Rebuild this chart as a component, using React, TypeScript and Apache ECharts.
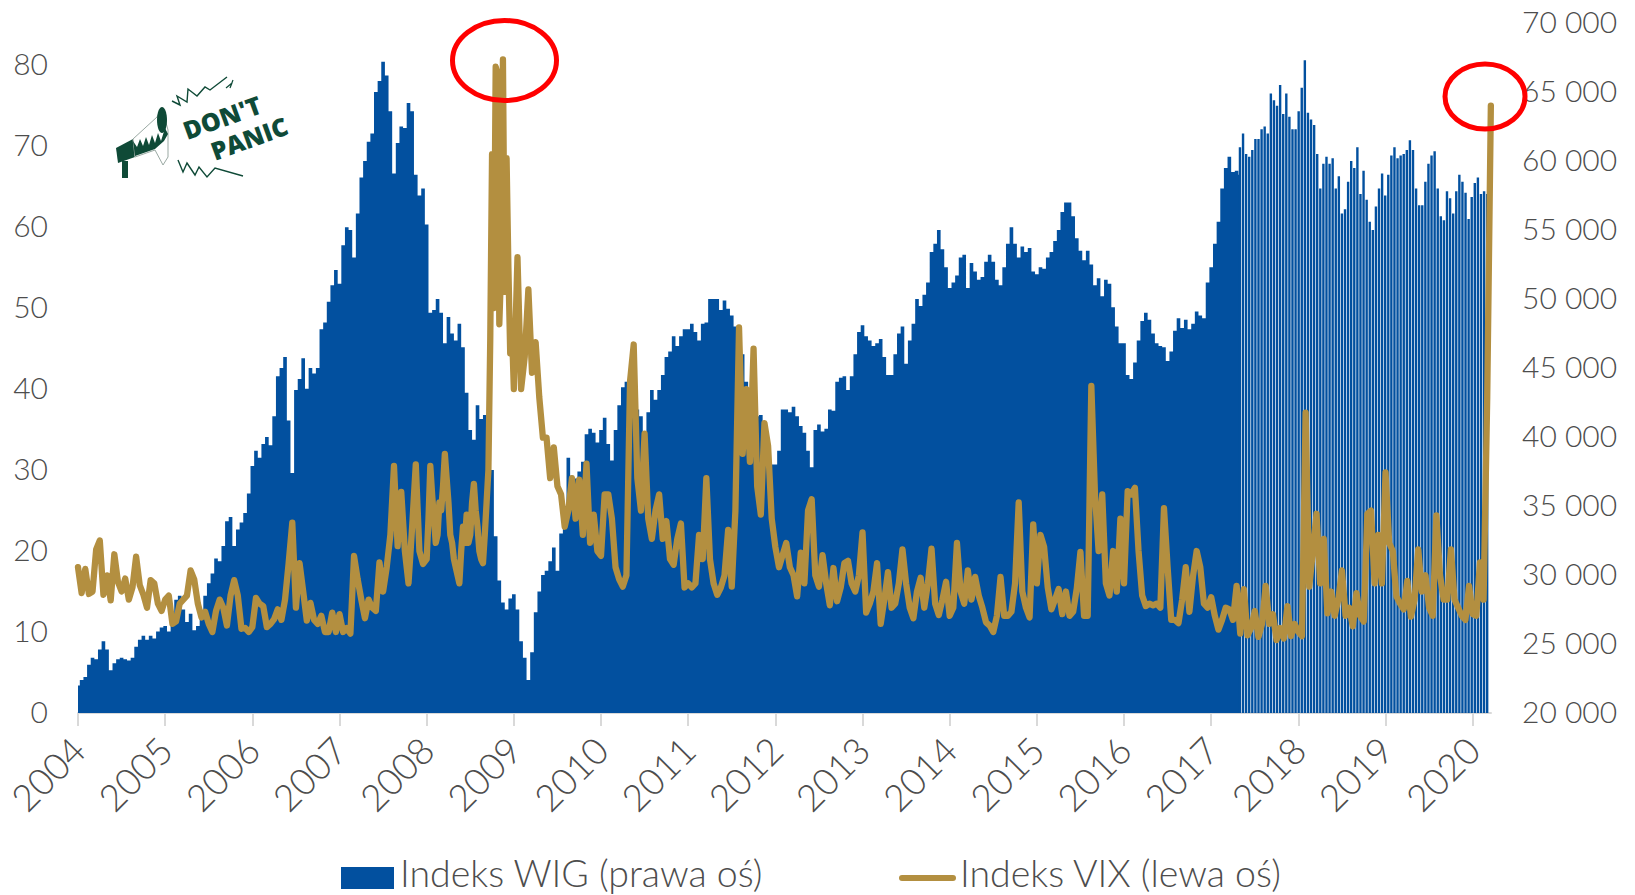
import React, { useEffect, useRef } from "react";
import * as echarts from "echarts";

const yearLabels = [2004, 2005, 2006, 2007, 2008, 2009, 2010, 2011, 2012, 2013, 2014, 2015, 2016, 2017, 2018, 2019, 2020];
const leftTicks = [0, 10, 20, 30, 40, 50, 60, 70, 80];
const rightTicks = [20000, 25000, 30000, 35000, 40000, 45000, 50000, 55000, 60000, 65000, 70000];
const wigName = "Indeks WIG (prawa oś)";
const vixName = "Indeks VIX (lewa oś)";

// WIG, thousands of points, 24 readings per year
const wig2004 = [22, 22.4, 22.6, 23.5, 24, 23.9, 24.6, 25.2, 24.6, 23.1, 23.6, 23.9, 24, 23.9, 23.8, 24, 24.8, 25.3, 25.6, 25.3, 25.6, 25.4, 25.9, 26.2];
const wig2005 = [26.3, 25.9, 26.6, 28.2, 28.5, 27.5, 26.6, 27.2, 26, 26.3, 27, 28.5, 29.4, 30.1, 31.2, 31, 32.1, 33.9, 34.2, 32.1, 33.3, 33.8, 34.5, 35.9];
const wig2006 = [37.9, 39, 38.5, 39.5, 40, 39.4, 41.5, 44.4, 45, 45.8, 41.2, 37.4, 43.4, 44.2, 45.7, 43.5, 45, 44.6, 45, 47.8, 48.3, 49.8, 51, 52.1];
const wig2007 = [51.1, 53.9, 55.2, 55, 53, 56.2, 58.8, 60, 61.4, 62, 65, 65.8, 67.2, 66.2, 63.6, 59.1, 61.3, 62.5, 62.4, 64.2, 63.6, 59, 57.5, 58];
const wig2008 = [55.4, 49, 49.2, 50, 49, 46.8, 48.7, 47.5, 47, 48.2, 46.5, 43.2, 40.5, 39.8, 42.3, 41.3, 41.6, 41, 37.6, 32.8, 29.6, 28, 27.5, 28.3];
const wig2009 = [28.6, 27.5, 25.2, 24, 22.4, 24.4, 27.3, 28.8, 30, 30.3, 31, 32, 30.3, 33, 35, 38.5, 37.2, 37, 37.5, 38.2, 40.2, 40.6, 40.3, 39.6];
const wig2010 = [40.5, 41.4, 39.5, 38.3, 40.5, 42.3, 43.6, 44, 43.5, 43, 42, 41.5, 40.2, 41.8, 43.4, 42.7, 43.4, 44.5, 45.8, 46.2, 47.3, 46.6, 47.3, 47.8];
const wig2011 = [47.8, 48.2, 47.6, 47, 48.2, 48.3, 50, 50, 50, 49.2, 49.9, 49.3, 48.8, 48, 47.5, 46, 44, 43.5, 42.5, 41.5, 41.6, 41, 39.5, 38];
const wig2012 = [38, 39, 42, 42, 41.8, 42.2, 41.5, 40.8, 40.3, 39, 37.8, 40.5, 40.9, 40.4, 40.6, 42, 41.9, 44, 44.3, 44.4, 43.4, 44.4, 46, 47.6];
const wig2013 = [48.1, 47.3, 47, 46.6, 46.8, 47.1, 45.8, 44.5, 44.5, 46, 47.5, 48, 45.3, 47, 48.2, 50, 49.5, 50.3, 51.2, 53.4, 54, 55, 53.6, 52.3];
const wig2014 = [50.8, 51.2, 51.7, 53, 53.2, 50.8, 52.6, 52, 51.4, 51.6, 52.7, 53.2, 52.7, 51.4, 51, 52.3, 54, 55.2, 54, 53, 53.8, 53.4, 53.7, 52];
const wig2015 = [51.8, 52.3, 52.2, 53, 53.4, 54.2, 55, 56.3, 57, 57, 56, 54.4, 53.5, 52.8, 53.5, 52.5, 51, 51.5, 50.2, 51.4, 51.1, 49.4, 48, 46.8];
const wig2016 = [46.8, 44.5, 44.2, 45.4, 47, 48.4, 49, 48.5, 47.5, 46.8, 46.6, 46.5, 45.5, 46.2, 47.7, 48.6, 47.9, 48.5, 47.8, 48.2, 49.1, 48.8, 48.6, 51.2];
const wig2017 = [52.3, 54, 55.6, 58, 59.5, 60.3, 59.2, 59.3, 59];
// WIG from spring 2017 on, read stripe by stripe
const wigStripes = [
  61, 62, 60.5, 60.3, 60.8, 61.6, 61.6, 62.3, 62.5, 62, 64.9, 64.4, 64, 65.5, 63.4, 64.9, 63.2, 62.3, 62.3, 63.6,
  65.3, 67.3, 63.5, 63, 62.6, 60.5, 58, 59.8, 60.3, 59.8, 60.2, 58, 58.9, 56.2, 56.5, 58.5, 60, 59.5, 61, 57.6,
  59.3, 57.2, 55.6, 55, 56.7, 58, 59.1, 57.5, 59, 60.4, 61, 60.2, 60.4, 60.5, 60.8, 61.5, 60.8, 58, 56.8, 56.8,
  58.5, 59.8, 60.4, 60.7, 58, 56, 55.7, 57.8, 57.3, 56.2, 57.8, 59, 58.5, 57.7, 55.8, 57.4, 58.4, 58.8, 57.6, 57.8, 57.6,
];
const wigStripeStart = 2017.33;
const wigStripeStep = 0.03545;

// VIX, 24 readings per year (48 in the crisis year 2008)
const vix2004 = [18, 14.8, 17.8, 14.7, 15, 20.2, 21.3, 14.6, 17, 13.9, 19.6, 16.2, 15, 16.6, 14, 15.5, 19.3, 15.8, 14.6, 13, 16.4, 16, 13.5, 12.6];
const vix2005 = [14, 14.5, 11, 11.3, 13.5, 14, 14.5, 17.6, 16.5, 13.5, 11.8, 12.5, 11, 10, 12.6, 14, 13, 10.8, 14.5, 16.4, 14.5, 10.4, 10.5, 10];
const vix2006 = [10.6, 14.2, 13.5, 13.2, 10.6, 11, 11.6, 12.8, 11.5, 14, 18.5, 23.5, 13, 18.5, 15, 11.4, 13.6, 11.5, 11, 12, 10, 10, 12.4, 10];
const vix2007 = [12.2, 10, 10.5, 9.8, 19.4, 16.5, 14, 11.7, 14, 13, 12.6, 18.6, 15, 18, 22, 30.5, 20.6, 27.3, 20, 16, 23, 30.7, 20, 18.4];
const vix2008 = [
  19, 24, 30.5, 27, 24, 21, 22, 26, 25, 28, 32, 29, 26, 22, 21, 19, 18, 17, 16, 20, 23, 21, 24.5, 21,
  22, 26, 28.3, 25, 23, 20, 19, 18.5, 22, 26, 30, 46, 69, 50, 79.8, 79, 48, 55, 80.7, 52, 68.5, 55, 44.4, 47,
];
const vix2009 = [40, 56.3, 40, 44, 52.3, 42, 45.8, 39, 34, 34, 29, 32.8, 28, 27, 23, 25, 29, 24, 28.8, 22, 30.8, 21, 24.5, 20];
const vix2010 = [19.4, 27, 27, 24, 18, 16.5, 15.6, 17, 41, 45.5, 29, 25, 34.5, 24, 21.5, 25, 27, 21.5, 23.7, 19, 18.3, 21.5, 23.4, 15.5];
const vix2011 = [16, 15.5, 16, 22, 19, 29, 19, 16, 14.6, 15.5, 17, 22.6, 15.6, 25, 47.6, 32, 40, 31, 45, 28, 24.5, 35.8, 33, 24];
const vix2012 = [20.5, 18, 19.5, 21, 18, 17, 14.4, 19.8, 16, 25, 26.4, 17, 15.6, 19.5, 16, 13.3, 17.9, 13.8, 15.5, 18.5, 18.8, 16, 15, 17];
const vix2013 = [22.3, 12.4, 13.5, 15, 18.5, 11, 14, 17.4, 13, 13.5, 16, 20.2, 16, 13, 11.7, 15, 16.7, 13, 16, 20.3, 13.5, 12.1, 14, 16.2];
const vix2014 = [12, 13, 21, 15, 13.5, 17.6, 14, 16.8, 14.5, 13, 11.2, 10.8, 10, 12, 16.8, 12, 12, 12.5, 16, 26, 15, 13, 11.8, 23.3];
const vix2015 = [16, 22, 20.5, 15.5, 12.8, 14, 15.3, 12.2, 15, 12, 12.5, 15.4, 19.9, 12, 12, 40.4, 27, 20, 27, 16, 14.5, 20, 15, 24];
const vix2016 = [16, 27.4, 27, 27.8, 20, 14.5, 13.2, 13.5, 13.3, 13.5, 13, 25.3, 18, 11.5, 11.5, 11.1, 14, 18, 12.5, 16.9, 20, 18, 13.5, 13];
const vix2017 = [14.3, 12, 10.3, 11.5, 13, 12.8, 11.5, 15.7, 9.8, 15.3, 9.6, 10.5, 12.6, 9.4, 11, 15.7, 11, 12.2, 9, 10.5, 9.2, 13.2, 9.5, 11];
const vix2018 = [10, 9.5, 37.1, 15.6, 20, 24.6, 16, 21.5, 12.3, 15, 12, 14, 17.6, 12, 13, 10.7, 14.8, 12, 11.3, 24.6, 25, 16, 22, 16];
const vix2019 = [29.7, 21, 20, 14.4, 13.5, 12.8, 16.3, 11.9, 14, 20.2, 15, 17, 13, 12, 24.4, 17, 14, 14, 20.2, 14, 13, 12, 11.5, 15.7];
const vix2020 = [12.2, 12, 18.6, 14, 39, 75];

const wigYears = [wig2004, wig2005, wig2006, wig2007, wig2008, wig2009, wig2010, wig2011, wig2012, wig2013, wig2014, wig2015, wig2016, wig2017];
const vixYears = [vix2004, vix2005, vix2006, vix2007, vix2008, vix2009, vix2010, vix2011, vix2012, vix2013, vix2014, vix2015, vix2016, vix2017, vix2018, vix2019, vix2020];

const perYear = (years: number[][], scale: number) =>
  years.flatMap((vals, y) => vals.map((v, i) => [2004 + y + i / Math.max(vals.length, 24), v * scale]));

const wigArea = perYear(wigYears, 1000);
const wigBars = wigStripes.map((v, i) => [wigStripeStart + i * wigStripeStep, v * 1000]);
const vixLine = perYear(vixYears, 1);

const BLUE = "#02509f";
const GOLD = "#b38f40";
const GREY = "#4d4d4d";
const LOGO = "#0f4a37";
const FONT = "Lato";
const deg = Math.PI / 180;

const megaphone = [
  { type: "polygon", shape: { points: [[116, 148], [133, 139], [135, 157], [118, 163]] }, style: { fill: LOGO } },
  { type: "rect", shape: { x: 122, y: 161, width: 6, height: 17 }, style: { fill: LOGO } },
  { type: "polygon", shape: { points: [[133, 139], [157, 117], [162, 108], [168, 130], [168, 157], [163, 165], [155, 150], [135, 157]] }, style: { fill: "#ffffff", stroke: "#9aa9a3", lineWidth: 1 } },
  { type: "polygon", shape: { points: [[133, 141], [137, 147], [140, 139], [143, 146], [146, 137], [149, 145], [152, 135], [155, 143], [158, 133], [161, 141], [165, 128], [168, 134], [164, 141], [155, 149], [135, 156]] }, style: { fill: LOGO } },
  { type: "ellipse", shape: { cx: 162, cy: 120, rx: 5, ry: 13 }, style: { fill: LOGO } },
  { type: "polyline", shape: { points: [[172, 101], [180, 105], [177, 96], [187, 102], [188, 89], [197, 96], [205, 87], [210, 90], [227, 77]] }, style: { fill: "none", stroke: LOGO, lineWidth: 1.4 } },
  { type: "polyline", shape: { points: [[226, 88], [232, 83], [230, 88], [233, 80]] }, style: { fill: "none", stroke: LOGO, lineWidth: 1.2 } },
  { type: "polyline", shape: { points: [[178, 160], [183, 172], [187, 163], [195, 175], [199, 167], [207, 177], [215, 168], [243, 176]] }, style: { fill: "none", stroke: LOGO, lineWidth: 1.4 } },
  { type: "text", x: 222, y: 117, rotation: 20 * deg, style: { text: "DON'T", font: "800 25px 'Open Sans'", fill: LOGO, textAlign: "center", textVerticalAlign: "middle" } },
  { type: "text", x: 249, y: 138, rotation: 20 * deg, style: { text: "PANIC", font: "800 25px 'Open Sans'", fill: LOGO, textAlign: "center", textVerticalAlign: "middle" } },
];

const legendFont = `300 37.5px ${FONT}`;
const legendMarks = [
  { type: "rect", shape: { x: 341, y: 867, width: 53, height: 22 }, style: { fill: BLUE } },
  { type: "text", x: 400, y: 872, style: { text: wigName, font: legendFont, fill: GREY, textAlign: "left", textVerticalAlign: "middle" } },
  { type: "line", shape: { x1: 902, y1: 878, x2: 953, y2: 878 }, style: { stroke: GOLD, lineWidth: 6, lineCap: "round" } },
  { type: "text", x: 960, y: 872, style: { text: vixName, font: legendFont, fill: GREY, textAlign: "left", textVerticalAlign: "middle" } },
];

export default function App() {
  const ref = useRef<HTMLDivElement>(null);
  useEffect(() => {
    const chart = echarts.init(ref.current!, null, { renderer: "svg" });
    chart.setOption({
      animation: false,
      backgroundColor: "#ffffff",
      textStyle: { fontFamily: FONT },
      grid: { left: 78, right: 144, top: 23, bottom: 182, containLabel: false },
      xAxis: {
        type: "value",
        min: 2004,
        max: 2020.21,
        splitLine: { show: false },
        axisLine: { show: true, onZero: false, lineStyle: { color: "#d9d9d9", width: 2 } },
        axisTick: { show: true, length: 13, customValues: yearLabels, lineStyle: { color: "#d9d9d9", width: 2 } },
        axisLabel: { customValues: yearLabels, rotate: 45, margin: 30, fontFamily: FONT, fontWeight: 300, fontSize: 37, color: GREY, formatter: (v: number) => String(v) },
      },
      yAxis: [
        {
          type: "value",
          min: 0,
          max: 85.2,
          position: "left",
          splitLine: { show: false },
          axisLine: { show: false },
          axisTick: { show: false },
          axisLabel: { customValues: leftTicks, margin: 30, verticalAlign: "bottom", lineHeight: 4, fontFamily: FONT, fontWeight: 300, fontSize: 30, color: GREY },
        },
        {
          type: "value",
          min: 20000,
          max: 70000,
          position: "right",
          splitLine: { show: false },
          axisLine: { show: false },
          axisTick: { show: false },
          axisLabel: {
            customValues: rightTicks,
            margin: 31,
            verticalAlign: "bottom",
            lineHeight: 4,
            fontFamily: FONT,
            fontWeight: 300,
            fontSize: 30,
            color: GREY,
            formatter: (v: number) => `${Math.round(v / 1000)} 000`,
          },
        },
      ],
      series: [
        {
          name: wigName,
          type: "line",
          yAxisIndex: 1,
          data: wigArea,
          symbol: "none",
          step: "middle",
          z: 1,
          lineStyle: { width: 0, color: BLUE },
          itemStyle: { color: BLUE },
          areaStyle: { color: BLUE, opacity: 1, origin: "start" },
        },
        {
          name: wigName,
          type: "bar",
          yAxisIndex: 1,
          data: wigBars,
          barWidth: 2.4,
          z: 1,
          itemStyle: { color: BLUE },
        },
        {
          name: vixName,
          type: "line",
          yAxisIndex: 0,
          data: vixLine,
          symbol: "none",
          clip: false,
          z: 3,
          lineStyle: { width: 6.3, color: GOLD, cap: "round", join: "round" },
          itemStyle: { color: GOLD },
        },
      ],
      graphic: [
        { type: "group", z: 50, children: megaphone },
        { type: "group", z: 50, children: legendMarks },
        { type: "ellipse", z: 100, shape: { cx: 504.5, cy: 60.5, rx: 52, ry: 40 }, style: { fill: "none", stroke: "#ff0000", lineWidth: 5 } },
        { type: "ellipse", z: 100, shape: { cx: 1485, cy: 96.5, rx: 40, ry: 32.5 }, style: { fill: "none", stroke: "#ff0000", lineWidth: 5 } },
      ],
    });
    return () => chart.dispose();
  }, []);
  return <div ref={ref} style={{ position: "absolute", left: 0, top: 0, width: 1635, height: 895 }} />;
}
